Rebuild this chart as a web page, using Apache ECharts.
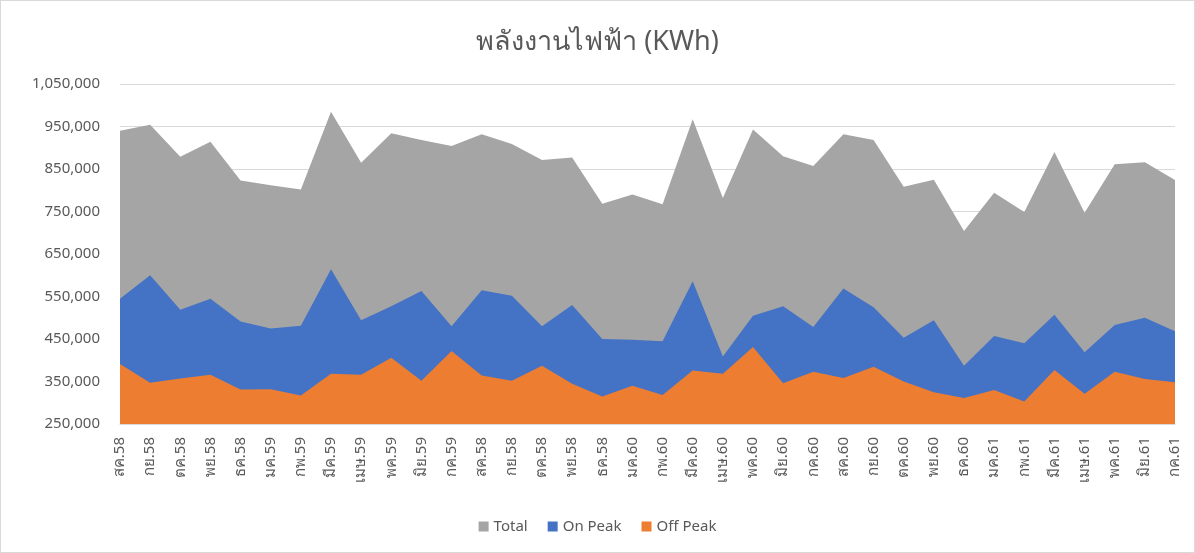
<!DOCTYPE html>
<html>
<head>
<meta charset="utf-8">
<script src="https://cdn.jsdelivr.net/npm/echarts@6/dist/echarts.min.js"></script>
<style>
  html, body { margin: 0; padding: 0; background: #fff; }
  #chart { width: 1193px; height: 551px; border: 1px solid #d9d9d9; }
</style>
</head>
<body>
<div id="chart"></div>
<script>
// เดือน (ตามป้ายในกราฟต้นฉบับ)
var months = [
  'สค.58', 'กย.58', 'ตค.58', 'พย.58', 'ธค.58', 'มค.59', 'กพ.59', 'มีค.59', 'เมษ.59', 'พค.59', 'มิย.59', 'กค.59',
  'สค.58', 'กย.58', 'ตค.58', 'พย.58', 'ธค.58', 'มค.60', 'กพ.60', 'มีค.60', 'เมษ.60', 'พค.60', 'มิย.60', 'กค.60',
  'สค.60', 'กย.60', 'ตค.60', 'พย.60', 'ธค.60', 'มค.61', 'กพ.61', 'มีค.61', 'เมษ.61', 'พค.61', 'มิย.61', 'กค.61'
];

var total = [
  940000, 954000, 879000, 914000, 823000, 812000, 802000, 985000, 865000, 934000, 918000, 904000,
  932000, 909000, 871000, 877000, 768000, 790000, 767000, 967000, 782000, 943000, 880000, 857000,
  932000, 918000, 808000, 825000, 704000, 794000, 749000, 890000, 747000, 861000, 866000, 824000
];

var onPeak = [
  545000, 600000, 519000, 545000, 491000, 475000, 481000, 614000, 494000, 527000, 563000, 480000,
  565000, 552000, 480000, 530000, 450000, 448000, 445000, 586000, 409000, 505000, 527000, 478000,
  569000, 525000, 453000, 494000, 387000, 457000, 440000, 507000, 419000, 483000, 500000, 468000
];

var offPeak = [
  391000, 347000, 357000, 366000, 331000, 332000, 317000, 368000, 366000, 406000, 352000, 422000,
  364000, 352000, 387000, 345000, 315000, 340000, 318000, 376000, 368000, 431000, 346000, 373000,
  358000, 385000, 350000, 325000, 311000, 330000, 303000, 377000, 321000, 373000, 356000, 348000
];

var txt = '#595959';
var font = '"Noto Sans", "Open Sans", sans-serif';

var myChart = echarts.init(document.getElementById('chart'));
myChart.setOption({
  animation: false,
  color: ['#a5a5a5', '#4472c4', '#ed7d31'],
  title: {
    text: 'พลังงานไฟฟ้า (KWh)',
    left: 'center',
    top: 23,
    textStyle: { color: txt, fontSize: 27, fontWeight: 'normal', fontFamily: font }
  },
  legend: {
    data: ['Total', 'On Peak', 'Off Peak'],
    bottom: 13,
    left: 'center',
    icon: 'rect',
    itemWidth: 10,
    itemHeight: 10,
    itemGap: 20,
    textStyle: { color: txt, fontSize: 15, fontFamily: font }
  },
  grid: { left: 119, right: 19, top: 83, bottom: 128 },
  xAxis: {
    type: 'category',
    boundaryGap: false,
    data: months,
    axisLine: { lineStyle: { color: '#d9d9d9' } },
    axisTick: { show: false },
    axisLabel: { rotate: 90, color: txt, fontSize: 15, fontFamily: font, margin: 13, interval: 0 }
  },
  yAxis: {
    type: 'value',
    min: 250000,
    max: 1050000,
    interval: 100000,
    axisLine: { show: false },
    axisTick: { show: false },
    splitLine: { lineStyle: { color: '#d9d9d9' } },
    axisLabel: {
      color: txt, fontSize: 15, fontFamily: font, margin: 20,
      formatter: function (v) { return v.toLocaleString('en-US'); }
    }
  },
  series: [
    { name: 'Total', type: 'line', data: total, symbol: 'none', lineStyle: { width: 0 }, areaStyle: { opacity: 1 } },
    { name: 'On Peak', type: 'line', data: onPeak, symbol: 'none', lineStyle: { width: 0 }, areaStyle: { opacity: 1 } },
    { name: 'Off Peak', type: 'line', data: offPeak, symbol: 'none', lineStyle: { width: 0 }, areaStyle: { opacity: 1 } }
  ]
});
</script>
</body>
</html>
